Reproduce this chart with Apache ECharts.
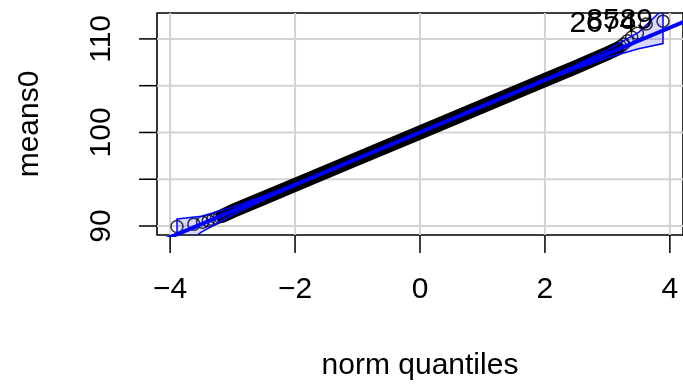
<!DOCTYPE html>
<html>
<head>
<meta charset="utf-8">
<script src="https://cdn.jsdelivr.net/npm/echarts@6/dist/echarts.min.js"></script>
<style>
html, body { margin: 0; padding: 0; background: #fff; }
#main { width: 683px; height: 391px; }
</style>
</head>
<body>
<div id="main"></div>
<script>
var xTicks = [-4, -2, 0, 2, 4];
var yTicks = [90, 95, 100, 105, 110];
var yLabels = [90, 100, 110];

// the dense middle of the points (drawn as a thick band)
var bandQ = [-3.16, -3.0, -2.5, -2.0, -1.0, 0, 1.0, 2.0, 2.5, 3.0, 3.16];
var bandV = [91.1, 91.6, 93.0, 94.4, 97.2, 100.0, 102.8, 105.6, 107.0, 108.45, 108.95];

// separate circles in the tails
var lowQ = [-3.89, -3.62, -3.48, -3.39, -3.32, -3.26, -3.21, -3.16];
var lowV = [89.95, 90.2, 90.4, 90.55, 90.7, 90.85, 91.0, 91.1];
var highQ = [3.16, 3.21, 3.26, 3.32, 3.39, 3.48, 3.62, 3.89];
var highV = [108.95, 109.2, 109.45, 109.8, 110.2, 110.6, 111.6, 111.9];

// fitted line and its envelope
var fitQ = [-4.3, 4.3];
var fitV = [87.96, 112.04];
var envQ = [-3.89, -3.5, -3.0, -2.5, -2.0, -1.0, 0, 1.0, 2.0, 2.5, 3.0, 3.5, 3.89];
var envLow = [87.4, 89.35, 91.18, 92.78, 94.28, 97.15, 99.965, 102.75, 105.48, 106.78, 107.98, 108.95, 109.5];
var envHigh = [90.75, 91.05, 92.02, 93.22, 94.52, 97.25, 100.035, 102.85, 105.72, 107.22, 108.82, 110.7, 113.2];

// labelled points
var idQ = [3.89, 3.62];
var idV = [111.9, 111.6];
var ids = ['8589', '2674'];

var xMin = -4.21, xMax = 4.21, yMin = 89.04, yMax = 112.77;
var font = 'Liberation Sans, Arial, sans-serif';
var fs = 30;

function pairs(a, b){
	var out = [];
	for(var i=0; i<a.length; i++){
		out.push([a[i], b[i]]);
	}
	return out;
}

function seg(a, b, color, w){
	return {type: 'line', shape: {x1: a[0], y1: a[1], x2: b[0], y2: b[1]},
		style: {stroke: color, lineWidth: w}};
}

var chart = echarts.init(document.getElementById('main'));

chart.setOption({
	animation: false,
	grid: {
		left: 157, top: 13, width: 530, height: 222,
		show: true, borderColor: '#000', borderWidth: 1.6,
		backgroundColor: 'transparent'
	},
	xAxis: {
		type: 'value', min: xMin, max: xMax,
		name: 'norm quantiles', nameLocation: 'middle', nameGap: 116,
		nameTextStyle: {fontFamily: font, fontSize: fs, color: '#000'},
		axisLine: {show: false},
		splitLine: {show: false},
		axisTick: {show: false},
		axisLabel: {
			customValues: xTicks, margin: 40, fontFamily: font, fontSize: fs, color: '#000',
			formatter: function(v){ return String(v).replace('-', '\u2212'); }
		}
	},
	yAxis: {
		type: 'value', min: yMin, max: yMax,
		name: 'means0', nameLocation: 'middle', nameGap: 112, nameRotate: 90,
		nameTextStyle: {fontFamily: font, fontSize: fs, color: '#000'},
		axisLine: {show: false},
		splitLine: {show: false},
		axisTick: {show: false},
		axisLabel: {
			customValues: yLabels, margin: 40, rotate: 90, fontFamily: font, fontSize: fs, color: '#000'
		}
	},
	series: [
		{
			// grey grid inside the box, black ticks outside it
			type: 'custom', z: 1, clip: false, silent: true, data: [0],
			renderItem: function(params, api){
				var kids = [];
				xTicks.forEach(function(v){
					var a = api.coord([v, yMin]), b = api.coord([v, yMax]);
					kids.push(seg(a, b, '#d3d3d3', 2));
					kids.push(seg(a, [a[0], a[1] + 18], '#000', 1.5));
				});
				yTicks.forEach(function(v){
					var a = api.coord([xMin, v]), b = api.coord([xMax, v]);
					kids.push(seg(a, b, '#d3d3d3', 2));
					kids.push(seg(a, [a[0] - 18, a[1]], '#000', 1.5));
				});
				return {type: 'group', children: kids};
			}
		},
		{
			type: 'line', z: 2, symbol: 'none', data: pairs(bandQ, bandV),
			lineStyle: {color: '#000', width: 14, cap: 'round', join: 'round'}
		},
		{
			type: 'scatter', z: 3, symbol: 'circle', symbolSize: 12,
			data: pairs(lowQ, lowV).concat(pairs(highQ, highV)),
			itemStyle: {color: 'rgba(0,0,0,0)', borderColor: '#000', borderWidth: 1.5}
		},
		{
			type: 'custom', z: 4, clip: true, data: [0],
			renderItem: function(params, api){
				var pts = [];
				for(var i=0; i<envQ.length; i++) pts.push(api.coord([envQ[i], envHigh[i]]));
				for(var j=envQ.length-1; j>=0; j--) pts.push(api.coord([envQ[j], envLow[j]]));
				return {
					type: 'polygon',
					shape: {points: pts},
					style: {fill: 'rgba(0,0,255,0.15)', stroke: '#0000ff', lineWidth: 1.5}
				};
			}
		},
		{
			type: 'line', z: 5, symbol: 'none', data: pairs(fitQ, fitV),
			lineStyle: {color: '#0000ff', width: 4}
		},
		{
			type: 'custom', z: 6, silent: true, data: pairs(idQ, idV),
			renderItem: function(params, api){
				var p = api.coord([api.value(0), api.value(1)]);
				return {
					type: 'text', x: p[0] - 10, y: p[1],
					style: {text: ids[params.dataIndex], fill: '#000', font: fs + 'px ' + font,
						textAlign: 'right', textVerticalAlign: 'middle'}
				};
			}
		}
	]
});
</script>
</body>
</html>
